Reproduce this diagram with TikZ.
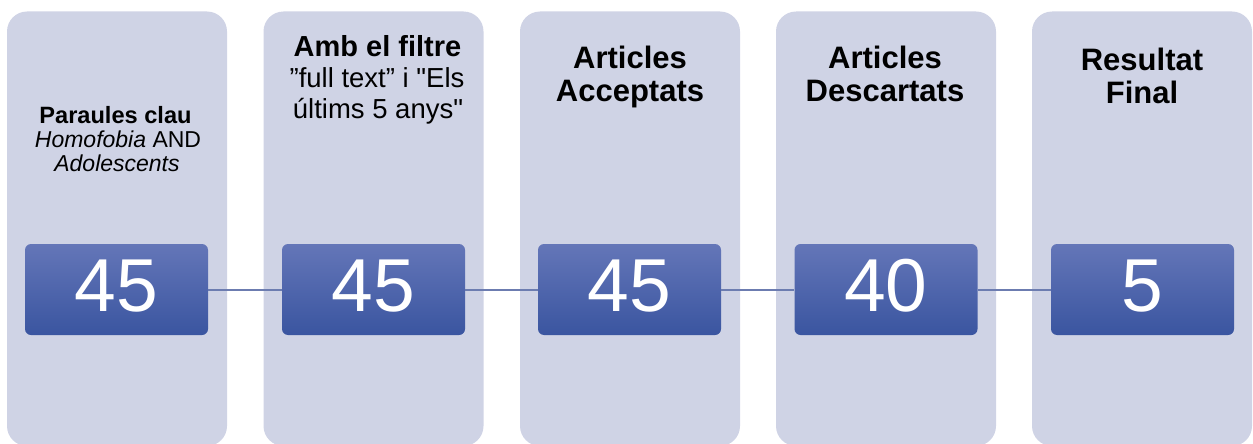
\documentclass[tikz,border=0pt]{standalone}
\usepackage{fontspec}
\setmainfont{Liberation Sans}[Ligatures=TeXOff]
\definecolor{colfill}{RGB}{207,211,229}
\definecolor{btop}{RGB}{100,118,184}
\definecolor{bmid}{RGB}{66,96,174}
\definecolor{bbot}{RGB}{58,85,160}
\definecolor{linkc}{RGB}{108,124,176}
\begin{document}
\begin{tikzpicture}[x=1pt,y=-1pt,
  column/.style={fill=colfill, draw=none, rounded corners=20pt, minimum width=220pt, minimum height=434.5pt, inner sep=0pt},
  numbox/.style={rounded corners=6pt, top color=btop, middle color=bmid, bottom color=bbot, draw=none,
    minimum width=183pt, minimum height=91pt, inner sep=0pt, text=white,
    font=\fontsize{75}{75}\selectfont, text height=53.7pt, text depth=9.4pt},
  link/.style={draw=linkc, line width=2pt},
  hsmall/.style={anchor=base, inner sep=0pt, font=\fontsize{23}{24}\selectfont},
  hmid/.style={anchor=base, inner sep=0pt, font=\fontsize{27.5}{31}\selectfont},
  hbig/.style={anchor=base, inner sep=0pt, font=\fontsize{31}{32}\selectfont\bfseries}]
\useasboundingbox (0,0) rectangle (1253,444);
% columns
\node[column] (c1) at (117,228.75) {};
\node[column] (c2) at (373.5,228.75) {};
\node[column] (c3) at (630,228.75) {};
\node[column] (c4) at (886,228.75) {};
\node[column] (c5) at (1142,228.75) {};
% number boxes
\node[numbox] (n1) at (116.5,289.5) {45};
\node[numbox] (n2) at (373.5,289.5) {45};
\node[numbox] (n3) at (629.5,289.5) {45};
\node[numbox] (n4) at (886,289.5) {40};
\node[numbox] (n5) at (1142.5,289.5) {5};
% connectors
\draw[link] (n1.east) -- (n2.west);
\draw[link] (n2.east) -- (n3.west);
\draw[link] (n3.east) -- (n4.west);
\draw[link] (n4.east) -- (n5.west);
% headings
\node[hsmall, font=\fontsize{23.6}{24}\selectfont] (t1a) at (115.5,123.3) {\bfseries Paraules clau};
\node[hsmall] (t1b) at (118,147.5) {\itshape Homofobia\/\upshape{} AND};
\node[hsmall] (t1c) at (117,171) {\itshape Adolescents};
\node[hmid, font=\fontsize{29}{31}\selectfont] (t2a) at (377.5,56.5) {\bfseries Amb el filtre};
\node[hmid] (t2b) at (377,88) {”full text” i "Els};
\node[hmid] (t2c) at (378,118.3) {últims 5 anys"};
\node[hbig] (t3a) at (630,69) {Articles};
\node[hbig] (t3b) at (630,101) {Acceptats};
\node[hbig] (t4a) at (885,69) {Articles};
\node[hbig] (t4b) at (885,101) {Descartats};
\node[hbig] (t5a) at (1142,70.5) {Resultat};
\node[hbig] (t5b) at (1142,103) {Final};
\end{tikzpicture}
\end{document}
